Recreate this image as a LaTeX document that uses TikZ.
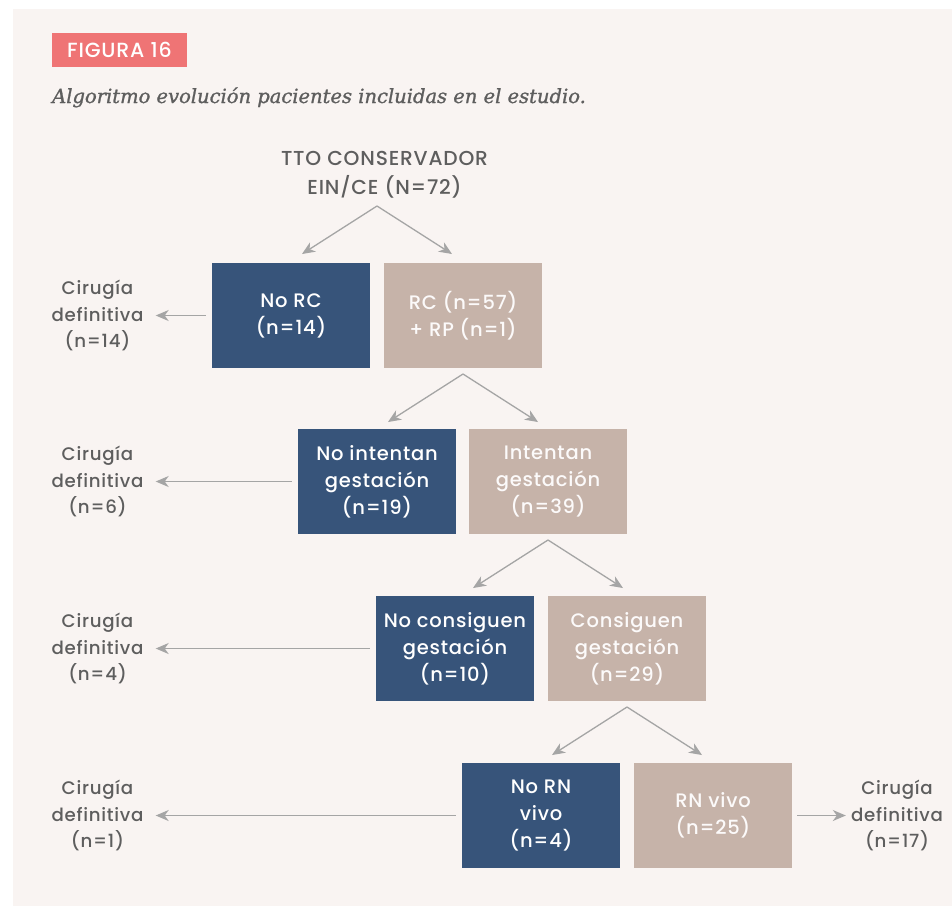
\documentclass[tikz,border=0pt]{standalone}
\usepackage{fontspec}
\setmainfont{Poppins}[UprightFont={* Medium}, LetterSpace=4]
\newfontfamily\titulofont{DejaVu Serif}[ItalicFeatures={FakeBold=1.2}]
\usetikzlibrary{arrows.meta}

\definecolor{fondo}{HTML}{F9F4F2}
\definecolor{azul}{HTML}{37547A}
\definecolor{topo}{HTML}{C6B3A9}
\definecolor{flecha}{HTML}{A5A5A5}
\definecolor{texto}{HTML}{5E5E5E}
\definecolor{rojo}{HTML}{EF7475}

\tikzset{
    caja/.style={minimum width=158pt, minimum height=105pt, inner sep=0pt, align=center,
        font=\fontsize{19.5}{27}\selectfont},
    cajano/.style={caja, fill=azul, text=white},
    cajasi/.style={caja, fill=topo, text=white!94!topo},
    cirugia/.style={align=center, inner sep=0pt, text=texto, font=\fontsize{18.2}{26.5}\selectfont},
    flechita/.style={draw=flecha, line width=1.3pt, -{Stealth[length=13pt, width=11pt, inset=4pt]}}
}

\begin{document}
\begin{tikzpicture}[x=1pt, y=-1pt]
        \useasboundingbox (0,0) rectangle (952,906);
        \fill[fondo] (13,9) rectangle (952,906);

        \node[fill=rojo, text=white, minimum width=135pt, minimum height=34pt, inner sep=0pt,
            font=\fontsize{20.5}{22}\selectfont] (fig) at (119.5,50) {FIGURA 16};
        \node[anchor=base west, inner sep=0pt, text=texto,
            font=\titulofont\itshape\fontsize{19.5}{22}\selectfont] (tit) at (52,103)
            {Algoritmo evolución pacientes incluidas en el estudio.};

        \node[align=center, inner sep=0pt, text=texto, font=\fontsize{20.2}{29}\selectfont] (tto)
            at (384.5,175) {TTO CONSERVADOR\\EIN/CE (N=72)};

        \node[cajano] (norc) at (291,315.5) {No RC\\(n=14)};
        \node[cajasi] (rc) at (463,315.5) {RC (n=57)\\+ RP (n=1)};
        \node[cajano] (noint) at (377,481.5) {No intentan\\gestación\\(n=19)};
        \node[cajasi] (int) at (548,481.5) {Intentan\\gestación\\(n=39)};
        \node[cajano] (nocons) at (455,648.5) {No consiguen\\gestación\\(n=10)};
        \node[cajasi] (cons) at (627,648.5) {Consiguen\\gestación\\(n=29)};
        \node[cajano] (norn) at (541,815.5) {No RN\\vivo\\(n=4)};
        \node[cajasi] (rn) at (713,815.5) {RN vivo\\(n=25)};

        \node[cirugia] (cir1) at (97.5,315.5) {Cirugía\\definitiva\\(n=14)};
        \node[cirugia] (cir2) at (97.5,481.5) {Cirugía\\definitiva\\(n=6)};
        \node[cirugia] (cir3) at (97.5,648.5) {Cirugía\\definitiva\\(n=4)};
        \node[cirugia] (cir4) at (97.5,815.5) {Cirugía\\definitiva\\(n=1)};
        \node[cirugia] (cir5) at (897,815.5) {Cirugía\\definitiva\\(n=17)};

        \coordinate (v1) at (377,206);
        \coordinate (v2) at (463,374);
        \coordinate (v3) at (548,540);
        \coordinate (v4) at (627,707);

        \draw[flechita] (v1) -- ++(-75,48);
        \draw[flechita] (v1) -- ++(75,48);
        \draw[flechita] (v2) -- ++(-75,48);
        \draw[flechita] (v2) -- ++(75,48);
        \draw[flechita] (v3) -- ++(-75,48);
        \draw[flechita] (v3) -- ++(75,48);
        \draw[flechita] (v4) -- ++(-75,48);
        \draw[flechita] (v4) -- ++(75,48);

        \draw[flechita, shorten <=6pt, shorten >=12pt] (norc.west) -- (cir1.east);
        \draw[flechita, shorten <=6pt, shorten >=12pt] (noint.west) -- (cir2.east);
        \draw[flechita, shorten <=6pt, shorten >=12pt] (nocons.west) -- (cir3.east);
        \draw[flechita, shorten <=6pt, shorten >=12pt] (norn.west) -- (cir4.east);
        \draw[flechita, shorten <=5pt, shorten >=5pt] (rn.east) -- (cir5.west);
    \end{tikzpicture}
\end{document}
